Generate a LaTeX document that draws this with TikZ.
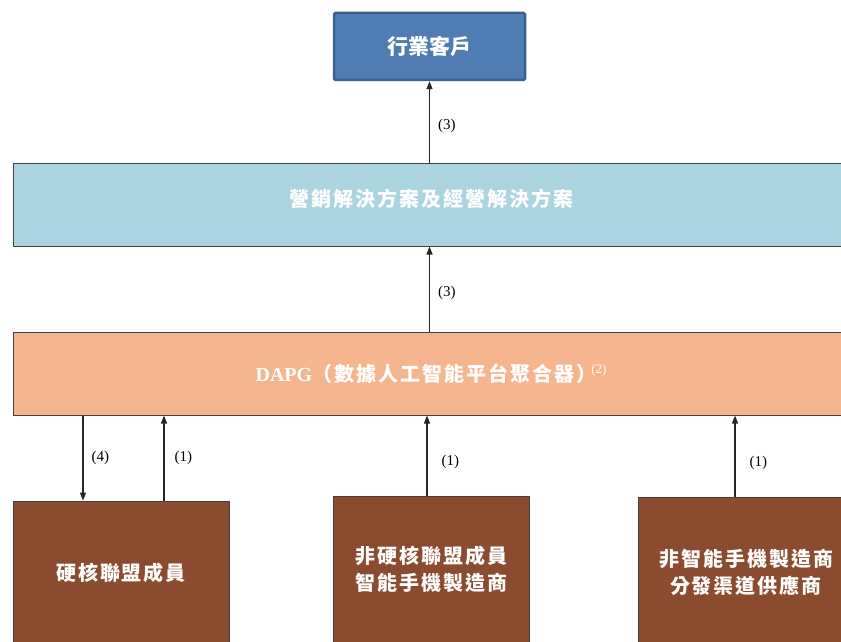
\documentclass[tikz,border=0pt]{standalone}
\usepackage{fontspec}
\usepackage{graphicx}
\setmainfont{Liberation Serif}
\newfontfamily\cjk{Noto Sans CJK TC}
\newfontfamily\cjkw{Noto Sans CJK TC}[LetterSpace=10]
\usetikzlibrary{arrows.meta}
\definecolor{topblue}{HTML}{4F7DB3}
\definecolor{topborder}{HTML}{3E5F8C}
\definecolor{solblue}{HTML}{AAD4E0}
\definecolor{dapgorange}{HTML}{F4B58F}
\definecolor{brownbox}{HTML}{8B4B2E}
\definecolor{edgegray}{HTML}{404040}
\tikzset{
  widebox/.style={draw=edgegray, line width=1pt, minimum width=836, minimum height=83, inner sep=0, text=white},
  brown/.style={draw=edgegray, line width=0.8pt, fill=brownbox, inner sep=0, text=white, align=center, font=\cjkw\bfseries\fontsize{20}{27}\selectfont},
  arr/.style={line width=1.4pt, draw=black!85, -{Triangle[length=8pt,width=6pt]}},
  lbl/.style={font=\fontsize{15}{17}\selectfont, inner sep=0}
}
\begin{document}
\begin{tikzpicture}[x=1pt,y=-1pt]
\useasboundingbox (0,0) rectangle (841,642);
\clip (0,0) rectangle (841,642);
% top box
\node[draw=topborder, line width=2.5pt, rounded corners=1.5pt, fill=topblue, minimum width=191, minimum height=67, inner sep=0, text=white,
  font=\cjk\bfseries\fontsize{21}{24}\selectfont] (top) at (429.5,46.5) {行業客戶};
% solutions box
\node[widebox, fill=solblue, font=\cjkw\bfseries\fontsize{20}{24}\selectfont] (sol) at (431,204.5)
  {\raisebox{13pt}{營銷解決方案及經營解決方案}};
% DAPG box
\node[widebox, fill=dapgorange, font=\bfseries\fontsize{20}{24}\selectfont] (dapg) at (431,373.5)
  {DAPG{\cjkw（數據人工智能平台聚合器）}\kern-5pt\raisebox{8pt}{\fontsize{13}{14}\selectfont\mdseries(2)}};
% bottom boxes
\node[brown, minimum width=216, minimum height=144] (hard) at (121,573) {硬核聯盟成員};
\node[brown, minimum width=196, minimum height=147] (mid) at (431,569.5) {非硬核聯盟成員\\智能手機製造商};
\node[brown, minimum width=216, minimum height=151] (right) at (746,572.5) {非智能手機製造商\\分發渠道供應商};
% arrows
\draw[arr] (sol.north -| top.south) -- node[lbl, right=8pt, pos=0.45] {(3)} (top.south);
\draw[arr] (dapg.north -| top.south) -- node[lbl, right=8pt, pos=0.45] {(3)} (sol.south -| top.south);
\draw[arr] ([xshift=-38pt]hard.north |- dapg.south) -- node[lbl, right=8pt] {(4)} ([xshift=-38pt]hard.north);
\draw[arr] ([xshift=43pt]hard.north) -- node[lbl, right=10pt] {(1)} ([xshift=43pt]hard.north |- dapg.south);
\draw[arr] ([xshift=-4pt]mid.north) -- node[lbl, right=14pt, pos=0.42] {(1)} ([xshift=-4pt]mid.north |- dapg.south);
\draw[arr] ([xshift=-11pt]right.north) -- node[lbl, right=14pt, pos=0.42] {(1)} ([xshift=-11pt]right.north |- dapg.south);
\end{tikzpicture}
\end{document}
